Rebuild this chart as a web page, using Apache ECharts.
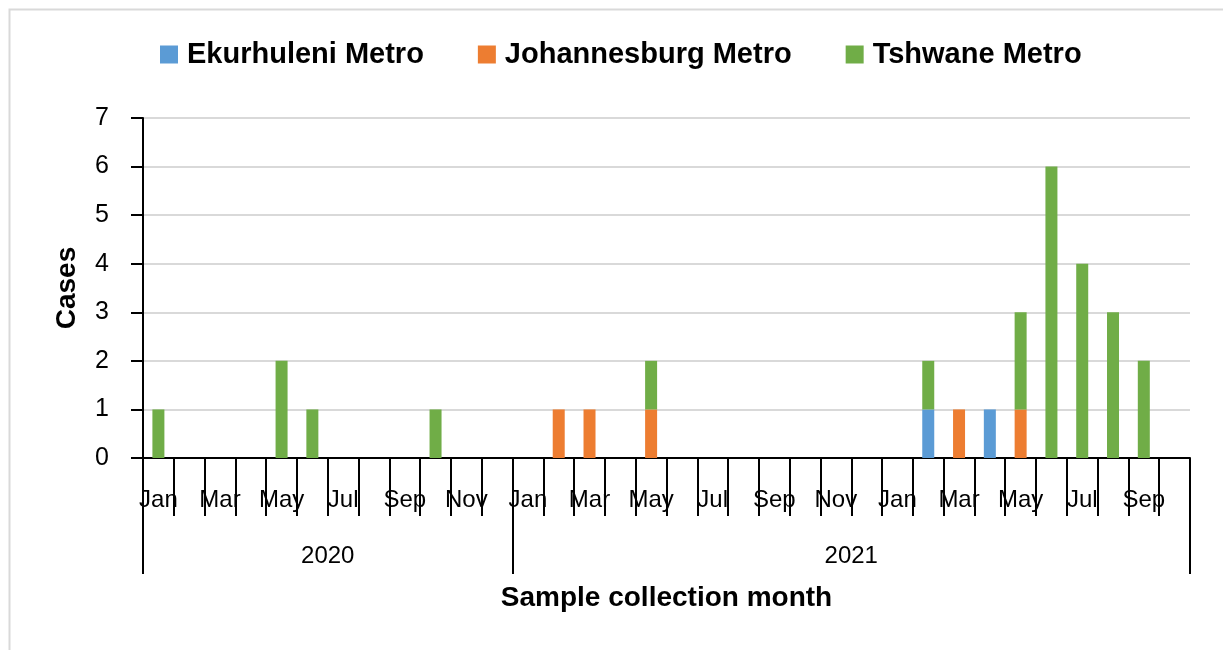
<!DOCTYPE html>
<html>
<head>
<meta charset="utf-8">
<title>Cases by sample collection month</title>
<script src="https://cdn.jsdelivr.net/npm/echarts@6/dist/echarts.min.js"></script>
<style>
  html, body { margin: 0; padding: 0; background: #ffffff; }
  #chart { width: 1223px; height: 650px; }
</style>
</head>
<body>
<div id="chart"></div>
<script>
// Month categories, Jan 2020 through Oct 2022
const months = [
  'Jan','Feb','Mar','Apr','May','Jun','Jul','Aug','Sep','Oct','Nov','Dec',
  'Jan','Feb','Mar','Apr','May','Jun','Jul','Aug','Sep','Oct','Nov','Dec',
  'Jan','Feb','Mar','Apr','May','Jun','Jul','Aug','Sep','Oct'
];

// Year groups on the second axis level: [label, number of months]
const yearGroups = [['2020', 12], ['2021', 22]];

const seriesNames = ['Ekurhuleni Metro', 'Johannesburg Metro', 'Tshwane Metro'];

const ekurhuleni = [
  0,0,0,0,0,0,0,0,0,0,0,0,
  0,0,0,0,0,0,0,0,0,0,0,0,
  0,1,0,1,0,0,0,0,0,0
];
const johannesburg = [
  0,0,0,0,0,0,0,0,0,0,0,0,
  0,1,1,0,1,0,0,0,0,0,0,0,
  0,0,1,0,1,0,0,0,0,0
];
const tshwane = [
  1,0,0,0,2,1,0,0,0,1,0,0,
  0,0,0,0,1,0,0,0,0,0,0,0,
  0,1,0,0,2,6,4,3,2,0
];

const yTicks = [0, 1, 2, 3, 4, 5, 6, 7];

const colors = ['#5B9BD5', '#ED7D31', '#70AD47'];
const FONT = '"Liberation Sans", Arial, sans-serif';

// Boundary points for the year level (one more point than months)
const boundaries = months.map((m, i) => String(i)).concat([String(months.length)]);
const groupEdges = new Set([0]);
const groupMid = {};
let acc = 0;
yearGroups.forEach(([label, n]) => {
  groupMid[acc + n / 2] = label;
  acc += n;
  groupEdges.add(acc);
});

const chart = echarts.init(document.getElementById('chart'), null, { renderer: 'canvas' });

const option = {
  backgroundColor: '#ffffff',
  animation: false,
  textStyle: { fontFamily: FONT },
  graphic: [{
    type: 'rect',
    left: 7, top: 7,
    shape: { width: 1240, height: 680 },
    style: { fill: 'none', stroke: '#d9d9d9', lineWidth: 2 },
    silent: true
  }],
  legend: {
    data: seriesNames,
    left: 155,
    top: 35,
    icon: 'rect',
    itemWidth: 18,
    itemHeight: 18,
    itemGap: 54,
    textStyle: {
      fontFamily: FONT,
      fontSize: 29,
      fontWeight: 'bold',
      color: '#000',
      padding: [0, 0, 0, 4]
    }
  },
  grid: { left: 143, right: 33, top: 118, bottom: 192, containLabel: false },
  xAxis: [{
    type: 'category',
    data: months,
    boundaryGap: true,
    name: 'Sample collection month',
    nameLocation: 'middle',
    nameGap: 126,
    nameTextStyle: { fontFamily: FONT, fontSize: 28, fontWeight: 'bold', color: '#000' },
    axisLine: { show: true, lineStyle: { color: '#000', width: 2 } },
    axisTick: { show: true, interval: 0, length: 58, lineStyle: { color: '#000', width: 2 } },
    axisLabel: { interval: 1, margin: 30, fontFamily: FONT, fontSize: 24, color: '#000' },
    splitLine: { show: false }
  }, {
    type: 'category',
    data: boundaries,
    boundaryGap: false,
    position: 'bottom',
    axisLine: { show: false },
    axisTick: {
      show: true,
      length: 116,
      interval: (i) => groupEdges.has(i),
      lineStyle: { color: '#000', width: 2 }
    },
    axisLabel: {
      margin: 86,
      interval: (i) => groupMid[i] !== undefined,
      formatter: (v, i) => groupMid[i] || '',
      fontFamily: FONT, fontSize: 24, color: '#000'
    },
    splitLine: { show: false }
  }],
  yAxis: {
    type: 'value',
    min: yTicks[0],
    max: yTicks[yTicks.length - 1],
    interval: 1,
    name: 'Cases',
    nameLocation: 'middle',
    nameRotate: 90,
    nameGap: 62,
    nameTextStyle: { fontFamily: FONT, fontSize: 28, fontWeight: 'bold', color: '#000' },
    axisLine: { show: true, lineStyle: { color: '#000', width: 2 } },
    axisTick: { show: true, inside: false, length: 12, lineStyle: { color: '#000', width: 2 } },
    axisLabel: { margin: 34, fontFamily: FONT, fontSize: 25, color: '#000' },
    splitLine: { show: true, lineStyle: { color: '#d9d9d9', width: 2 } }
  },
  series: [ekurhuleni, johannesburg, tshwane].map((vals, k) => ({
    name: seriesNames[k],
    type: 'bar',
    stack: 'cases',
    xAxisIndex: 0,
    barWidth: 12,
    itemStyle: { color: colors[k] },
    data: vals
  }))
};

chart.setOption(option);
</script>
</body>
</html>
